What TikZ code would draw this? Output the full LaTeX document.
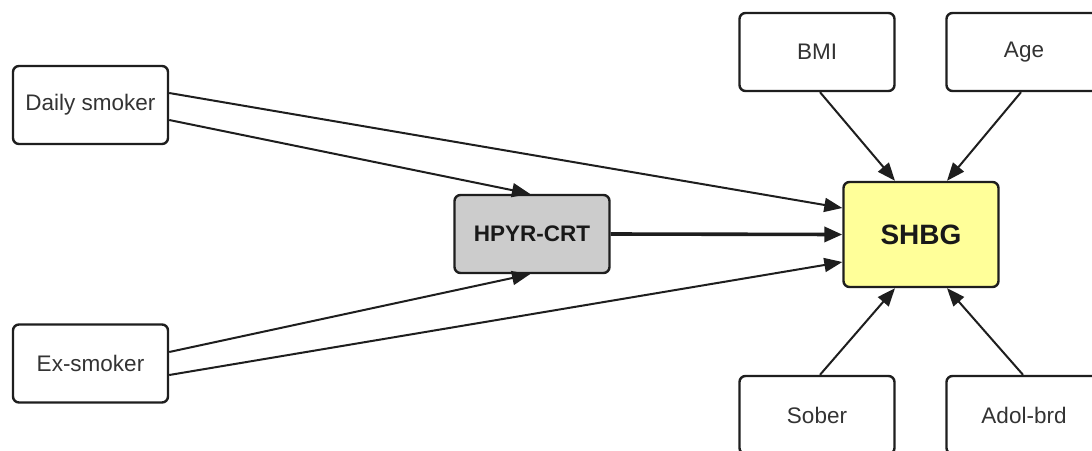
\documentclass[tikz,border=0pt]{standalone}
\usepackage{fontspec}
\setmainfont{Liberation Sans}
\usetikzlibrary{arrows.meta}
\definecolor{boxline}{HTML}{1E1E1E}
\definecolor{medfill}{HTML}{CCCCCC}
\definecolor{outfill}{HTML}{FFFF99}
\tikzset{
  varbox/.style={draw=boxline, line width=2.4pt, rounded corners=6pt, fill=white,
    minimum width=155pt, minimum height=78pt, inner sep=0pt, font=\fontsize{22.5}{26}\selectfont, text=black!80},
  medbox/.style={varbox, fill=medfill, font=\fontsize{22.5}{26}\selectfont\bfseries, text=black!90},
  outbox/.style={varbox, fill=outfill, minimum height=105pt, font=\fontsize{28}{32}\selectfont\bfseries, text=black!90},
  link/.style={draw=boxline, line width=2pt, -{Triangle[length=18pt,width=14pt]}},
  mainlink/.style={link, line width=3.6pt, -{Triangle[length=18pt,width=15pt]}}
}
\begin{document}
\begin{tikzpicture}[x=1pt,y=-1pt]
  \useasboundingbox (0,0) rectangle (1092,450);
  \clip (0,0) rectangle (1092,450);
  \fill[white] (0,0) rectangle (1092,450);

  % exposure and confounders
  \node[varbox] (ds)  at (90.5,105)   {Daily smoker};
  \node[varbox] (ex)  at (90.5,363.5) {Ex-smoker};
  \node[medbox] (hp)  at (532,234)    {HPYR-CRT};
  \node[outbox] (sh)  at (921,234.5)  {SHBG};
  \node[varbox] (bmi) at (817,52)     {BMI};
  \node[varbox] (age) at (1024,52)    {Age};
  \node[varbox] (sob) at (817,415)    {Sober};
  \node[varbox] (ado) at (1024,415)   {Adol-brd};

  % smoking paths
  \draw[link] ([yshift=12pt]ds.east) -- ([yshift=26.5pt]sh.west);
  \draw[link] ([yshift=-15pt]ds.east) -- ([xshift=-2pt]hp.north);
  \draw[link] ([yshift=11.5pt]ex.east) -- ([xshift=-2pt]hp.south);
  \draw[link] ([yshift=-11.5pt]ex.east) -- ([yshift=-27.5pt]sh.west);
  \draw[mainlink] (hp.east) -- (sh.west);

  % covariates
  \draw[link] ([xshift=3pt]bmi.south) -- ([xshift=-26pt]sh.north);
  \draw[link] ([xshift=-3pt]age.south) -- ([xshift=26pt]sh.north);
  \draw[link] ([xshift=3pt]sob.north) -- ([xshift=-26pt]sh.south);
  \draw[link] ([xshift=-1pt]ado.north) -- ([xshift=26pt]sh.south);
\end{tikzpicture}
\end{document}
